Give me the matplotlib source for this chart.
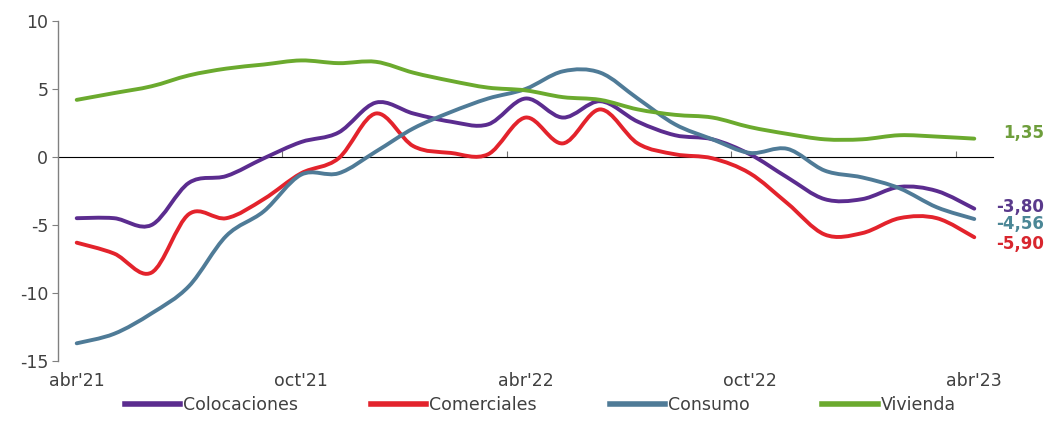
import numpy as np
import matplotlib
matplotlib.use("Agg")
import matplotlib.pyplot as plt
from matplotlib.path import Path
from matplotlib.patches import PathPatch
from matplotlib.lines import Line2D

# Monthly growth rates, abr'21 .. abr'23
months = ["abr'21", "may'21", "jun'21", "jul'21", "ago'21", "sep'21",
          "oct'21", "nov'21", "dic'21", "ene'22", "feb'22", "mar'22",
          "abr'22", "may'22", "jun'22", "jul'22", "ago'22", "sep'22",
          "oct'22", "nov'22", "dic'22", "ene'23", "feb'23", "mar'23",
          "abr'23"]

colocaciones = [-4.5, -4.5, -5.0, -1.9, -1.4, -0.1, 1.1, 1.8, 4.0, 3.2, 2.6, 2.4,
                4.3, 2.9, 4.1, 2.6, 1.6, 1.3, 0.2, -1.5, -3.1, -3.1, -2.2, -2.5,
                -3.80]
comerciales = [-6.3, -7.1, -8.5, -4.2, -4.5, -3.1, -1.2, -0.1, 3.2, 0.8, 0.3, 0.2,
               2.9, 1.0, 3.5, 1.0, 0.2, -0.1, -1.2, -3.4, -5.7, -5.6, -4.5, -4.5,
               -5.90]
consumo = [-13.7, -13.0, -11.5, -9.5, -5.8, -4.0, -1.3, -1.2, 0.4, 2.1, 3.3, 4.3,
           5.0, 6.3, 6.2, 4.3, 2.4, 1.3, 0.3, 0.6, -1.0, -1.5, -2.3, -3.7,
           -4.56]
vivienda = [4.2, 4.7, 5.2, 6.0, 6.5, 6.8, 7.1, 6.9, 7.0, 6.2, 5.6, 5.1,
            4.9, 4.4, 4.2, 3.5, 3.1, 2.9, 2.2, 1.7, 1.3, 1.3, 1.6, 1.5,
            1.35]

series = [
    ("Colocaciones", colocaciones, "#5B2C8F", "#5A3A8C"),
    ("Comerciales", comerciales, "#E3232C", "#D8262E"),
    ("Consumo", consumo, "#4F7B97", "#4B8796"),
    ("Vivienda", vivienda, "#6BAA2E", "#6E9E3C"),
]
# vertical offset (pixels) of each end label relative to the last point
label_dy = {"Colocaciones": 2, "Comerciales": -7, "Consumo": -5, "Vivienda": 6}

tick_pos = [0, 6, 12, 18, 24]
tick_labels = ["abr'21", "oct'21", "abr'22", "oct'22", "abr'23"]


def smooth_path(xs, ys):
    # Catmull-Rom style cubic bezier through every point (smoothed line)
    pts = np.column_stack([xs, ys]).astype(float)
    n = len(pts)
    verts = [pts[0]]
    codes = [Path.MOVETO]
    for i in range(n - 1):
        p0 = pts[max(i - 1, 0)]
        p1 = pts[i]
        p2 = pts[i + 1]
        p3 = pts[min(i + 2, n - 1)]
        c1 = p1 + (p2 - p0) / 6.0
        c2 = p2 - (p3 - p1) / 6.0
        verts += [c1, c2, p2]
        codes += [Path.CURVE4] * 3
    return Path(verts, codes)


plt.rcParams['font.family'] = ['DejaVu Sans']
plt.rcParams['axes.unicode_minus'] = False
fig = plt.figure(figsize=(10.49, 4.25), dpi=100)
ax = fig.add_axes([0.0553, 0.1506, 0.8913, 0.80])

x = np.arange(len(months))
for name, vals, color, lcolor in series:
    patch = PathPatch(smooth_path(x, vals), facecolor="none", edgecolor=color,
                      lw=2.8, capstyle="round", joinstyle="round")
    ax.add_patch(patch)
    ax.annotate(f"{vals[-1]:.2f}".replace(".", ","), xy=(x[-1], vals[-1]),
                xytext=(70, label_dy[name]), textcoords="offset pixels",
                ha="right", va="center", fontsize=12, fontweight="bold",
                color=lcolor)

ax.set_xlim(-0.5, len(months) - 0.5)
ax.set_ylim(-15, 10)
ax.set_yticks([-15, -10, -5, 0, 5, 10])
ax.set_xticks(tick_pos)
ax.set_xticklabels(tick_labels)
ax.tick_params(axis="x", length=0, pad=8, labelsize=12.5, labelcolor="#404040")
ax.tick_params(axis="y", direction="out", length=4, color="#808080",
               labelsize=12.5, labelcolor="#404040", pad=3)

for s in ["top", "right", "bottom"]:
    ax.spines[s].set_visible(False)
ax.spines["left"].set_color("#808080")
ax.spines["left"].set_linewidth(1.0)

# zero line with category tick marks
zero_ax = ax.secondary_xaxis(0.6)
zero_ax.set_xticks([5.5, 11.5, 17.5, 23.5])
zero_ax.set_xticklabels([])
zero_ax.tick_params(direction="out", length=4, color="#707070")
zero_ax.spines["bottom"].set_color("#707070")
zero_ax.spines["bottom"].set_linewidth(1.0)

handles = [Line2D([], [], color=c, lw=4) for _, _, c, _ in series]
fig.legend(handles, [s[0] for s in series], loc="lower center",
           bbox_to_anchor=(0.515, -0.012), ncol=4, frameon=False,
           fontsize=12.5, handlelength=3.2, handletextpad=0.15,
           columnspacing=4.2, labelcolor="#404040")

fig.savefig("out.png", dpi=100)
